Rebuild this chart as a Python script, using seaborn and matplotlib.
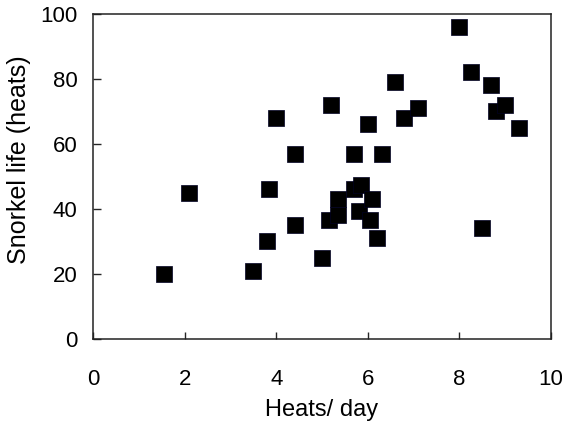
import pandas as pd
import seaborn as sns
import matplotlib.pyplot as plt

# heats per day vs snorkel life
heats_per_day = [1.55, 2.1, 3.5, 3.8, 3.85, 4.0, 4.4, 4.4, 5.0, 5.2, 5.15,
                 5.35, 5.35, 5.7, 5.85, 5.8, 6.1, 6.05, 6.2, 5.7, 6.0, 6.3,
                 6.6, 6.8, 7.1, 8.0, 8.25, 8.7, 8.8, 9.0, 9.3, 8.5]
snorkel_life = [20, 45, 21, 30, 46, 68, 57, 35, 25, 72, 36.5,
                38, 43, 46, 47.5, 39.5, 43, 36.5, 31, 57, 66, 57,
                79, 68, 71, 96, 82, 78, 70, 72, 65, 34]

df = pd.DataFrame({"heats_per_day": heats_per_day, "snorkel_life": snorkel_life})

sns.set_style("ticks")
plt.rcParams["font.family"] = ["Liberation Sans", "DejaVu Sans"]

fig = plt.figure(figsize=(5.62, 4.23), dpi=100)
ax = fig.add_axes([0.1655, 0.199, 0.815, 0.768])

sns.scatterplot(x="heats_per_day", y="snorkel_life", data=df, ax=ax,
                marker="s", s=120, color="black", edgecolor="#000022",
                linewidth=0.5, zorder=3)

ax.set_xlim(0, 10)
ax.set_ylim(0, 100)
ax.set_xticks([0, 2, 4, 6, 8, 10])
ax.set_yticks([0, 20, 40, 60, 80, 100])
ax.tick_params(axis="x", direction="in", length=5, width=1, pad=22,
               labelsize=16, labelcolor="black")
ax.tick_params(axis="y", direction="in", length=6, width=1, pad=11,
               labelsize=16, labelcolor="black")
ax.tick_params(top=False, right=False)
for side in ["top", "right", "bottom", "left"]:
    ax.spines[side].set_visible(True)
    ax.spines[side].set_linewidth(1.1)
    ax.spines[side].set_color("#222222")

ax.set_xlabel("Heats/ day", fontsize=17, labelpad=6, color="black")
ax.set_ylabel("Snorkel life (heats)", fontsize=18, color="black")
# label sits a bit above the axes middle in the reference
ax.yaxis.set_label_coords(-0.135, 0.55)

fig.savefig("out.png", dpi=100)
